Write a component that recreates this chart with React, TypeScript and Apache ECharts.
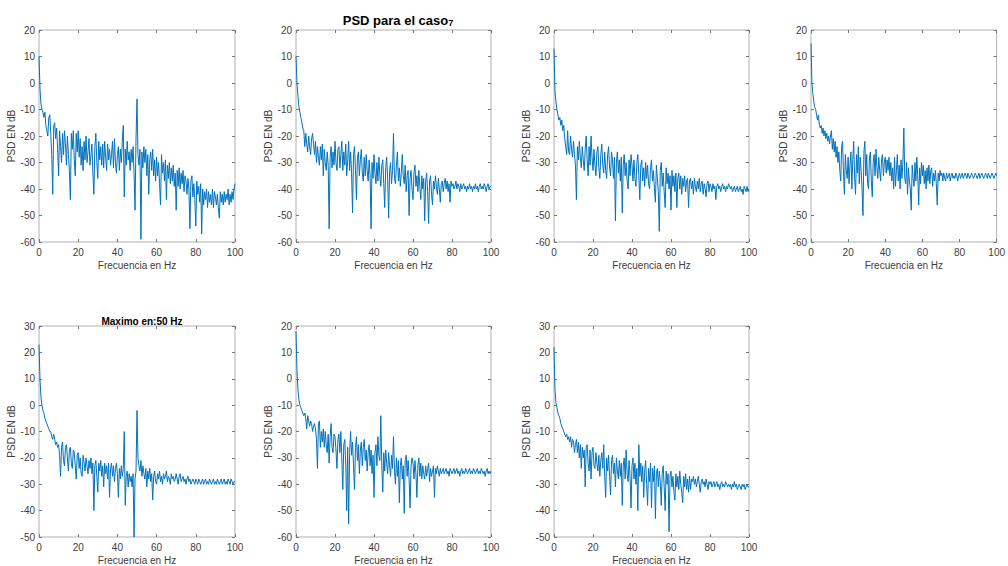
import React, { useEffect, useRef } from "react";
import * as echarts from "echarts";

// Frequency bins (Hz), 0.5 Hz resolution from 0 to 100
const FREQ: number[] = Array.from({ length: 201 }, (_, i) => i * 0.5);

const PSD1: number[] = [
  10, -2, -8, -10, -11, -13, -11, -16, -18, -20, -13, -12, -19, -27, -42, -16, -15, -21, -17, -25,
  -35, -18, -24, -30, -19, -27, -18, -23, -31, -20, -27, -33, -44, -19, -25, -18, -29, -35, -19, -26,
  -18, -28, -21, -31, -24, -33, -22, -29, -20, -30, -26, -21, -31, -27, -23, -34, -42, -24, -19, -30,
  -36, -22, -29, -24, -31, -23, -32, -22, -28, -33, -23, -29, -25, -31, -27, -22, -32, -21, -30, -34,
  -27, -24, -33, -25, -30, -22, -16, -43, -25, -31, -22, -29, -26, -33, -25, -30, -24, -34, -48, -21,
  -6, -27, -31, -25, -59, -26, -32, -24, -30, -25, -35, -27, -42, -29, -26, -33, -25, -35, -29, -37,
  -28, -35, -30, -38, -46, -27, -34, -30, -37, -29, -44, -31, -36, -30, -38, -32, -37, -31, -39, -34,
  -48, -33, -39, -32, -40, -34, -38, -33, -41, -35, -37, -42, -36, -40, -55, -37, -35, -43, -38, -44,
  -54, -37, -42, -39, -45, -38, -57, -40, -46, -41, -44, -40, -47, -41, -45, -42, -46, -40, -47, -41,
  -43, -46, -42, -47, -51, -41, -45, -42, -46, -41, -45, -42, -44, -40, -46, -42, -45, -41, -44, -40, -38,
];

const PSD2: number[] = [
  10, 0, -5, -9, -11, -13, -15, -17, -18, -24, -19, -23, -26, -20, -24, -27, -21, -19, -23, -27,
  -22, -30, -24, -28, -31, -24, -29, -23, -35, -25, -30, -33, -26, -31, -55, -28, -24, -32, -26, -31,
  -22, -30, -33, -25, -24, -32, -27, -22, -33, -26, -31, -23, -35, -29, -22, -33, -26, -34, -49, -27,
  -24, -33, -44, -28, -26, -35, -29, -25, -34, -37, -28, -35, -27, -33, -37, -29, -35, -55, -30, -36,
  -27, -34, -38, -30, -37, -28, -35, -39, -31, -29, -38, -47, -32, -28, -36, -51, -33, -30, -38, -33,
  -19, -36, -38, -31, -26, -37, -32, -39, -34, -27, -35, -38, -31, -41, -35, -33, -50, -36, -33, -40,
  -44, -34, -31, -39, -35, -41, -33, -39, -44, -35, -40, -36, -52, -37, -34, -41, -53, -37, -35, -42,
  -46, -37, -40, -35, -39, -42, -36, -40, -45, -38, -37, -41, -38, -36, -40, -37, -41, -38, -45, -37,
  -39, -38, -40, -39, -37, -40, -38, -39, -41, -38, -40, -39, -38, -40, -39, -41, -39, -40, -38, -40,
  -39, -41, -39, -40, -38, -40, -39, -41, -39, -38, -40, -39, -40, -38, -39, -41, -39, -38, -40, -39, -39,
];

const PSD3: number[] = [
  13, -3, -7, -10, -12, -14, -13, -16, -14, -18, -16, -21, -24, -27, -18, -26, -27, -20, -25, -28,
  -22, -27, -31, -44, -24, -29, -22, -28, -32, -24, -29, -33, -25, -20, -29, -35, -24, -31, -20, -28,
  -33, -25, -31, -35, -26, -24, -32, -36, -27, -23, -31, -34, -26, -33, -36, -27, -24, -32, -35, -26,
  -29, -36, -28, -52, -30, -26, -34, -29, -37, -28, -49, -31, -27, -35, -30, -37, -40, -29, -35, -27,
  -31, -37, -29, -36, -39, -30, -27, -35, -44, -31, -29, -37, -32, -39, -30, -36, -31, -38, -40, -32,
  -29, -37, -33, -40, -45, -31, -36, -41, -56, -33, -30, -39, -34, -41, -47, -32, -38, -34, -40, -35,
  -48, -33, -39, -35, -41, -34, -47, -36, -34, -40, -35, -42, -36, -39, -35, -41, -37, -36, -47, -37,
  -36, -40, -37, -42, -36, -39, -41, -37, -40, -36, -41, -38, -37, -42, -38, -40, -43, -38, -37, -41,
  -38, -39, -41, -38, -40, -39, -44, -39, -38, -40, -39, -41, -39, -38, -40, -39, -41, -39, -40, -38,
  -39, -40, -39, -41, -40, -39, -41, -40, -39, -41, -40, -39, -41, -40, -42, -39, -40, -41, -39, -41, -40,
];

const PSD4: number[] = [
  15, 0, -4, -7, -9, -10, -12, -14, -12, -16, -17, -16, -19, -17, -20, -18, -21, -19, -22, -20,
  -23, -20, -18, -25, -21, -26, -22, -28, -24, -30, -26, -33, -37, -24, -22, -34, -42, -27, -33, -36,
  -28, -38, -31, -26, -40, -29, -22, -36, -42, -27, -34, -24, -38, -28, -33, -40, -50, -26, -22, -35,
  -27, -38, -40, -28, -26, -37, -43, -30, -27, -35, -25, -32, -36, -28, -33, -37, -29, -27, -35, -30,
  -28, -34, -29, -33, -28, -35, -30, -37, -32, -40, -28, -39, -33, -27, -37, -31, -40, -29, -36, -30,
  -17, -36, -38, -30, -42, -32, -37, -40, -48, -31, -36, -39, -30, -37, -28, -35, -46, -32, -38, -30,
  -35, -31, -38, -33, -40, -32, -37, -31, -38, -33, -32, -39, -34, -37, -33, -38, -46, -34, -37, -33,
  -35, -34, -37, -34, -36, -37, -34, -36, -35, -34, -37, -35, -34, -36, -35, -36, -34, -35, -37, -35,
  -34, -36, -35, -34, -36, -35, -34, -35, -36, -34, -35, -36, -35, -34, -35, -36, -35, -34, -35, -36,
  -35, -34, -36, -35, -34, -35, -36, -35, -34, -35, -36, -34, -35, -36, -35, -34, -35, -36, -35, -34, -35,
];

const PSD5: number[] = [
  23, 10, 3, 0, -2, -3, -5, -6, -7, -8, -9, -10, -10, -12, -13, -11, -13, -15, -14, -16,
  -15, -19, -27, -16, -14, -21, -23, -16, -15, -20, -25, -17, -16, -22, -24, -17, -18, -23, -28, -19,
  -18, -24, -20, -26, -27, -19, -22, -25, -20, -23, -26, -21, -24, -20, -26, -22, -40, -23, -21, -27,
  -33, -22, -25, -21, -27, -23, -31, -22, -26, -23, -28, -22, -35, -24, -22, -27, -23, -29, -24, -22,
  -26, -35, -24, -28, -23, -27, -24, -10, -38, -27, -25, -31, -26, -29, -27, -31, -26, -50, -28, -25,
  -2, -20, -23, -25, -21, -27, -23, -26, -28, -24, -31, -25, -28, -24, -29, -26, -36, -27, -25, -29,
  -30, -26, -28, -25, -29, -27, -30, -26, -28, -27, -25, -29, -27, -28, -30, -26, -28, -27, -29, -28,
  -26, -28, -30, -27, -26, -29, -28, -27, -29, -28, -30, -28, -27, -29, -28, -30, -29, -28, -29, -30,
  -28, -29, -30, -28, -29, -30, -29, -28, -30, -29, -28, -30, -29, -30, -28, -29, -30, -29, -28, -30,
  -29, -30, -28, -29, -30, -29, -28, -30, -29, -28, -30, -29, -30, -28, -29, -30, -28, -29, -30, -29, -29,
];

const PSD6: number[] = [
  18, 3, -4, -8, -10, -11, -12, -13, -14, -13, -15, -19, -14, -16, -18, -16, -17, -20, -18, -17,
  -19, -23, -34, -17, -16, -26, -20, -24, -19, -26, -20, -25, -28, -21, -32, -22, -17, -26, -28, -21,
  -22, -27, -34, -23, -21, -28, -20, -30, -42, -25, -23, -32, -50, -26, -55, -28, -20, -29, -24, -33,
  -42, -26, -22, -31, -25, -36, -27, -24, -33, -26, -23, -31, -27, -35, -28, -25, -33, -27, -36, -29,
  -45, -28, -25, -33, -22, -29, -31, -14, -33, -43, -28, -35, -27, -32, -36, -28, -33, -37, -29, -34,
  -22, -35, -40, -30, -37, -31, -47, -33, -30, -38, -33, -51, -31, -29, -37, -31, -38, -49, -33, -30,
  -32, -38, -31, -36, -45, -33, -30, -37, -32, -38, -33, -36, -38, -33, -37, -34, -32, -39, -34, -37,
  -35, -33, -45, -34, -36, -33, -35, -37, -34, -36, -35, -34, -36, -35, -34, -36, -35, -37, -34, -35,
  -36, -35, -34, -36, -35, -34, -36, -35, -37, -35, -34, -36, -35, -36, -34, -35, -36, -35, -34, -36,
  -35, -36, -34, -35, -36, -35, -34, -36, -35, -36, -34, -35, -36, -35, -37, -35, -34, -36, -35, -36, -35,
];

const PSD7: number[] = [
  22, 6, 1, -1, -3, -4, -5, -7, -8, -9, -10, -11, -12, -11, -13, -12, -14, -12, -16, -13,
  -14, -18, -15, -13, -18, -14, -20, -15, -24, -16, -20, -17, -31, -16, -15, -22, -25, -17, -28, -18,
  -16, -23, -24, -18, -22, -25, -19, -27, -21, -18, -24, -15, -27, -35, -20, -25, -19, -27, -34, -21,
  -19, -26, -22, -31, -20, -25, -28, -21, -27, -22, -38, -23, -20, -28, -17, -26, -29, -21, -27, -39,
  -23, -20, -28, -22, -30, -24, -40, -15, -27, -22, -29, -23, -35, -25, -21, -30, -38, -24, -29, -22,
  -39, -24, -29, -23, -43, -26, -24, -31, -25, -29, -38, -26, -23, -31, -40, -25, -30, -26, -48, -27,
  -25, -31, -27, -33, -36, -26, -31, -27, -32, -25, -30, -33, -37, -27, -31, -26, -32, -28, -33, -27,
  -32, -28, -29, -27, -30, -28, -31, -29, -27, -30, -33, -29, -28, -30, -29, -31, -28, -30, -32, -29,
  -30, -29, -31, -30, -29, -31, -30, -29, -31, -30, -32, -30, -29, -31, -30, -31, -29, -30, -31, -30,
  -31, -30, -32, -30, -31, -29, -31, -30, -32, -31, -30, -31, -32, -30, -31, -30, -32, -31, -30, -31, -31,
];

const SERIES: number[][] = [PSD1, PSD2, PSD3, PSD4, PSD5, PSD6, PSD7];
const Y_MIN: number[] = [-60, -60, -60, -60, -50, -60, -50];
const Y_MAX: number[] = [20, 20, 20, 20, 30, 20, 30];

const X_LABEL = "Frecuencia en Hz";
const Y_LABEL = "PSD EN dB";
const MAIN_TITLE = "PSD para el caso";
const MAIN_TITLE_SUB = "7";
const SUB_TITLE = "Maximo en:50 Hz";

// layout of the plot boxes (page pixels)
const BOXES = [
  { left: 39, top: 30, width: 196, height: 212 },
  { left: 296, top: 30, width: 195, height: 212 },
  { left: 554, top: 30, width: 195, height: 212 },
  { left: 811, top: 30, width: 195, height: 212 },
  { left: 39, top: 326, width: 196, height: 212 },
  { left: 296, top: 326, width: 195, height: 212 },
  { left: 554, top: 326, width: 195, height: 212 },
];

const FONT = "'Liberation Sans', Arial, Helvetica, sans-serif";
const TEXT_COLOR = "#3d3d3d";
const BOX_COLOR = "#b0b0b0";
const LINE_COLOR = "#0072BD";

export default function App() {
  const ref = useRef<HTMLDivElement>(null);

  useEffect(() => {
    document.body.style.margin = "0";
    if (!ref.current) return;
    const chart = echarts.init(ref.current, null, { renderer: "svg" });

    const grid = BOXES.map((b) => ({
      left: b.left,
      top: b.top,
      width: b.width,
      height: b.height,
      show: true,
      borderColor: BOX_COLOR,
      borderWidth: 1,
      backgroundColor: "#fff",
      containLabel: false,
    }));

    const tick = { show: true, inside: true, length: 3, lineStyle: { color: "#777" } };
    const xAxis: any[] = [];
    const yAxis: any[] = [];
    const series: any[] = [];

    BOXES.forEach((_, i) => {
      xAxis.push({
        type: "value",
        gridIndex: i,
        position: "bottom",
        min: 0,
        max: 100,
        interval: 20,
        axisLine: { show: false, onZero: false },
        axisTick: tick,
        axisLabel: { color: TEXT_COLOR, fontSize: 10, fontFamily: FONT, margin: 5 },
        splitLine: { show: false },
        name: X_LABEL,
        nameLocation: "middle",
        nameGap: 18,
        nameTextStyle: { color: TEXT_COLOR, fontSize: 10, fontFamily: FONT },
      });
      xAxis.push({
        type: "value",
        gridIndex: i,
        position: "top",
        min: 0,
        max: 100,
        interval: 20,
        axisLine: { show: false, onZero: false },
        axisTick: tick,
        axisLabel: { show: false },
        splitLine: { show: false },
      });
      yAxis.push({
        type: "value",
        gridIndex: i,
        position: "left",
        min: Y_MIN[i],
        max: Y_MAX[i],
        interval: 10,
        axisLine: { show: false, onZero: false },
        axisTick: tick,
        axisLabel: { color: TEXT_COLOR, fontSize: 10, fontFamily: FONT, margin: 4 },
        splitLine: { show: false },
        name: Y_LABEL,
        nameLocation: "middle",
        nameGap: 20,
        nameRotate: 90,
        nameTextStyle: { color: TEXT_COLOR, fontSize: 10, fontFamily: FONT },
      });
      yAxis.push({
        type: "value",
        gridIndex: i,
        position: "right",
        min: Y_MIN[i],
        max: Y_MAX[i],
        interval: 10,
        axisLine: { show: false, onZero: false },
        axisTick: tick,
        axisLabel: { show: false },
        splitLine: { show: false },
      });
      series.push({
        type: "line",
        xAxisIndex: i * 2,
        yAxisIndex: i * 2,
        data: SERIES[i].map((v, k) => [FREQ[k], v]),
        showSymbol: false,
        symbol: "none",
        lineStyle: { color: LINE_COLOR, width: 1 },
        clip: true,
      });
    });

    chart.setOption({
      animation: false,
      backgroundColor: "#fff",
      title: [
        {
          text: `{m|${MAIN_TITLE}}{s|${MAIN_TITLE_SUB}}`,
          left: 393,
          top: 8,
          textAlign: "center",
          textStyle: {
            rich: {
              m: { fontSize: 13, fontWeight: "bold", color: "#000", fontFamily: FONT },
              s: { fontSize: 9, fontWeight: "bold", color: "#000", fontFamily: FONT, padding: [5, 0, 0, 0] },
            },
          },
        },
        {
          text: SUB_TITLE,
          left: 137,
          top: 311,
          textAlign: "center",
          textStyle: { fontSize: 10, fontWeight: "bold", color: "#000", fontFamily: FONT },
        },
      ],
      grid,
      xAxis,
      yAxis,
      series,
    });

    return () => chart.dispose();
  }, []);

  return <div ref={ref} style={{ width: 1008, height: 566 }} />;
}
